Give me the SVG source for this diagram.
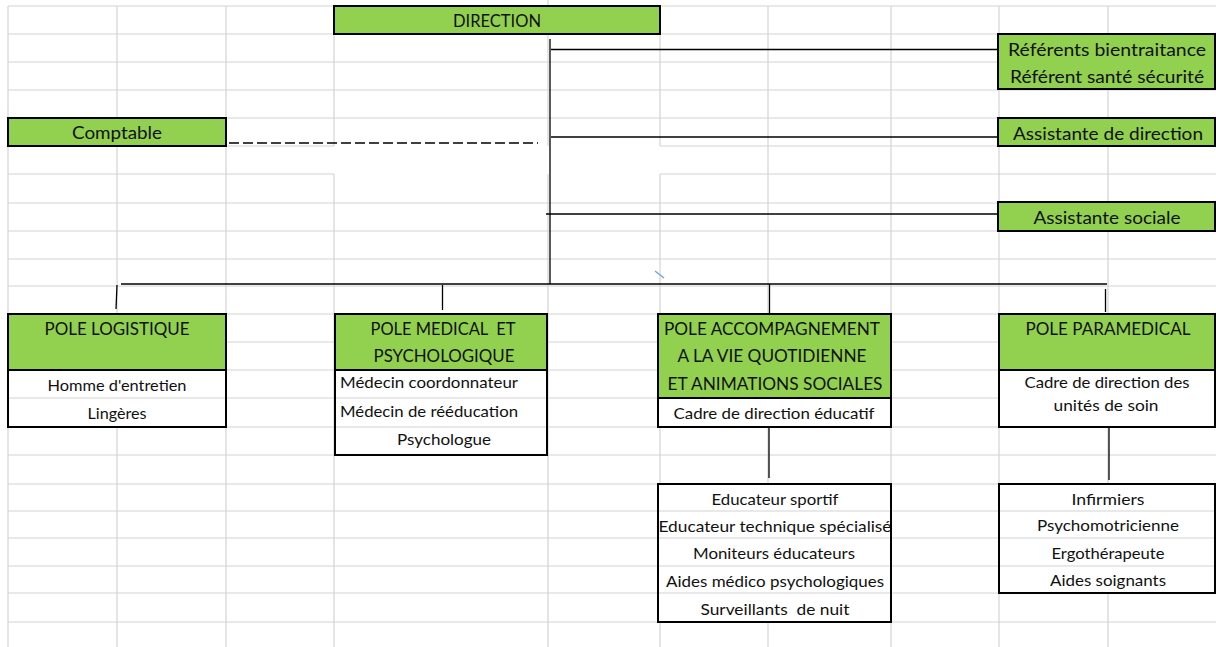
<svg xmlns="http://www.w3.org/2000/svg" width="1216" height="647" viewBox="0 0 1216 647">
<style>
.grid{stroke:#d4d4d4;stroke-width:1.2;fill:none}
.box{stroke:#000;stroke-width:2;fill:#fff}
.g{fill:#92d050}
.sep{stroke:#000;stroke-width:2}
.inner{stroke:#d4d4d4;stroke-width:1.2}
.c{stroke:#000;stroke-width:1.3;fill:none}
.h{font-family:Lato,"Liberation Sans",sans-serif;font-size:17px;fill:#111;text-anchor:middle}
.b{font-family:Lato,"Liberation Sans",sans-serif;font-size:15px;fill:#111;text-anchor:middle}
.l{text-anchor:start}
</style>
<defs>
<clipPath id="clipEdu"><rect x="659" y="484" width="231" height="138"/></clipPath>
</defs>
<rect x="0" y="0" width="1216" height="647" fill="#fff"/>
<g id="grid">
<path class="grid" d="M8 6H1216M8 34H1216M8 62H1216M8 90H1216M8 118H1216M226 146H334M660 146H1216M8 174H334M660 174H1216M8 203H1216M8 231H1216M8 259H1216M8 286H1216M8 314H1216M8 342H1216M8 370H1216M8 398H1216M8 427H1216M8 455H1216M8 484H1216M8 511H1216M8 538H1216M8 566H1216M8 593H1216M8 622H1216"/>
<path class="grid" d="M8 6V647M117 6V647M226 6V647M334 6V146M334 174V647M548 0V146M548 174V647M660 6V146M660 174V647M768 6V647M891 6V647M999 6V647M1108 6V647"/>
</g>
<g id="connectors">
<line class="c" x1="550" y1="39" x2="550" y2="284" stroke-width="2.3"/>
<line class="c" x1="551" y1="49.5" x2="998" y2="49.5"/>
<line class="c" x1="551" y1="137" x2="998" y2="137"/>
<line class="c" x1="546" y1="214" x2="998" y2="214"/>
<line class="c" x1="229" y1="143" x2="538" y2="143" stroke="#404040" stroke-dasharray="10 4"/>
<line class="c" x1="121" y1="284" x2="1107" y2="284" stroke-width="1.7"/>
<line class="c" x1="117" y1="285" x2="116" y2="309"/>
<line class="c" x1="442.5" y1="285" x2="442.5" y2="310"/>
<line class="c" x1="769.5" y1="284" x2="769.5" y2="313"/>
<line class="c" x1="1105.5" y1="289" x2="1105.5" y2="312"/>
<line class="c" x1="769" y1="427" x2="769" y2="478"/>
<line class="c" x1="1109" y1="427" x2="1109" y2="480"/>
<line x1="655" y1="271" x2="664" y2="278" stroke="#6fa8dc" stroke-width="1.5"/>
</g>
<g id="direction">
<rect class="box g" x="334" y="6" width="326" height="28"/>
<text class="h" x="497" y="27" textLength="88" lengthAdjust="spacingAndGlyphs">DIRECTION</text>
</g>
<g id="referents">
<rect class="box g" x="998" y="34" width="217" height="55"/>
<text class="h" x="1107" y="56" textLength="198" lengthAdjust="spacingAndGlyphs">Référents bientraitance</text>
<text class="h" x="1107" y="83" textLength="194" lengthAdjust="spacingAndGlyphs">Référent santé sécurité</text>
</g>
<g id="comptable">
<rect class="box g" x="8" y="118" width="218" height="28"/>
<text class="h" x="117" y="139" textLength="90" lengthAdjust="spacingAndGlyphs">Comptable</text>
</g>
<g id="assistante-direction">
<rect class="box g" x="998" y="118" width="217" height="28"/>
<text class="h" x="1108" y="140" textLength="190" lengthAdjust="spacingAndGlyphs">Assistante de direction</text>
</g>
<g id="assistante-sociale">
<rect class="box g" x="998" y="202" width="217" height="29"/>
<text class="h" x="1107" y="224" textLength="147" lengthAdjust="spacingAndGlyphs">Assistante sociale</text>
</g>
<g id="pole-logistique">
<rect class="box" x="8" y="314" width="218" height="113"/>
<rect class="g" x="9" y="315" width="216" height="55"/>
<line class="sep" x1="8" y1="370" x2="226" y2="370"/>
<line class="inner" x1="9" y1="398" x2="225" y2="398"/>
<text class="h" x="117" y="335" textLength="145" lengthAdjust="spacingAndGlyphs">POLE LOGISTIQUE</text>
<text class="b" x="117" y="391" textLength="139" lengthAdjust="spacingAndGlyphs">Homme d'entretien</text>
<text class="b" x="117" y="419" textLength="59" lengthAdjust="spacingAndGlyphs">Lingères</text>
</g>
<g id="pole-medical">
<rect class="box" x="335" y="314" width="212" height="141"/>
<rect class="g" x="336" y="315" width="210" height="55"/>
<line class="sep" x1="335" y1="370" x2="547" y2="370"/>
<line class="inner" x1="336" y1="398" x2="546" y2="398"/>
<line class="inner" x1="336" y1="427" x2="546" y2="427"/>
<text class="h" x="443" y="335" textLength="145" lengthAdjust="spacingAndGlyphs" xml:space="preserve">POLE MEDICAL  ET</text>
<text class="h" x="444" y="362" textLength="141" lengthAdjust="spacingAndGlyphs">PSYCHOLOGIQUE</text>
<text class="b l" x="340" y="388" textLength="178" lengthAdjust="spacingAndGlyphs">Médecin coordonnateur</text>
<text class="b l" x="340" y="417" textLength="178" lengthAdjust="spacingAndGlyphs">Médecin de rééducation</text>
<text class="b" x="444" y="445" textLength="94" lengthAdjust="spacingAndGlyphs">Psychologue</text>
</g>
<g id="pole-accompagnement">
<rect class="box" x="658" y="314" width="233" height="113"/>
<rect class="g" x="659" y="315" width="231" height="83"/>
<line class="sep" x1="658" y1="398" x2="891" y2="398"/>
<text class="h" x="772" y="335" textLength="216" lengthAdjust="spacingAndGlyphs">POLE ACCOMPAGNEMENT</text>
<text class="h" x="772" y="362" textLength="189" lengthAdjust="spacingAndGlyphs">A LA VIE QUOTIDIENNE</text>
<text class="h" x="775" y="390" textLength="215" lengthAdjust="spacingAndGlyphs">ET ANIMATIONS SOCIALES</text>
<text class="b" x="774" y="419" textLength="201" lengthAdjust="spacingAndGlyphs">Cadre de direction éducatif</text>
</g>
<g id="pole-paramedical">
<rect class="box" x="999" y="314" width="216" height="113"/>
<rect class="g" x="1000" y="315" width="214" height="55"/>
<line class="sep" x1="999" y1="370" x2="1215" y2="370"/>
<text class="h" x="1108" y="335" textLength="165" lengthAdjust="spacingAndGlyphs">POLE PARAMEDICAL</text>
<text class="b" x="1107" y="388" textLength="165" lengthAdjust="spacingAndGlyphs">Cadre de direction des</text>
<text class="b" x="1106" y="411" textLength="105" lengthAdjust="spacingAndGlyphs">unités de soin</text>
</g>
<g id="equipe-educative">
<rect class="box" x="658" y="484" width="233" height="138"/>
<line class="inner" x1="659" y1="511" x2="890" y2="511"/>
<line class="inner" x1="659" y1="538" x2="890" y2="538"/>
<line class="inner" x1="659" y1="566" x2="890" y2="566"/>
<line class="inner" x1="659" y1="593" x2="890" y2="593"/>
<text class="b" x="775" y="505" textLength="127" lengthAdjust="spacingAndGlyphs">Educateur sportif</text>
<text class="b" x="775" y="532" textLength="233" lengthAdjust="spacingAndGlyphs" clip-path="url(#clipEdu)">Educateur technique spécialisé</text>
<text class="b" x="774" y="559" textLength="162" lengthAdjust="spacingAndGlyphs">Moniteurs éducateurs</text>
<text class="b" x="775" y="587" textLength="218" lengthAdjust="spacingAndGlyphs">Aides médico psychologiques</text>
<text class="b" x="775" y="615" textLength="149" lengthAdjust="spacingAndGlyphs" xml:space="preserve">Surveillants  de nuit</text>
</g>
<g id="equipe-soins">
<rect class="box" x="999" y="484" width="216" height="109"/>
<line class="inner" x1="1000" y1="511" x2="1214" y2="511"/>
<line class="inner" x1="1000" y1="538" x2="1214" y2="538"/>
<line class="inner" x1="1000" y1="566" x2="1214" y2="566"/>
<text class="b" x="1108" y="505" textLength="73" lengthAdjust="spacingAndGlyphs">Infirmiers</text>
<text class="b" x="1108" y="531" textLength="142" lengthAdjust="spacingAndGlyphs">Psychomotricienne</text>
<text class="b" x="1108" y="559" textLength="113" lengthAdjust="spacingAndGlyphs">Ergothérapeute</text>
<text class="b" x="1108" y="586" textLength="116" lengthAdjust="spacingAndGlyphs">Aides soignants</text>
</g>
</svg>
